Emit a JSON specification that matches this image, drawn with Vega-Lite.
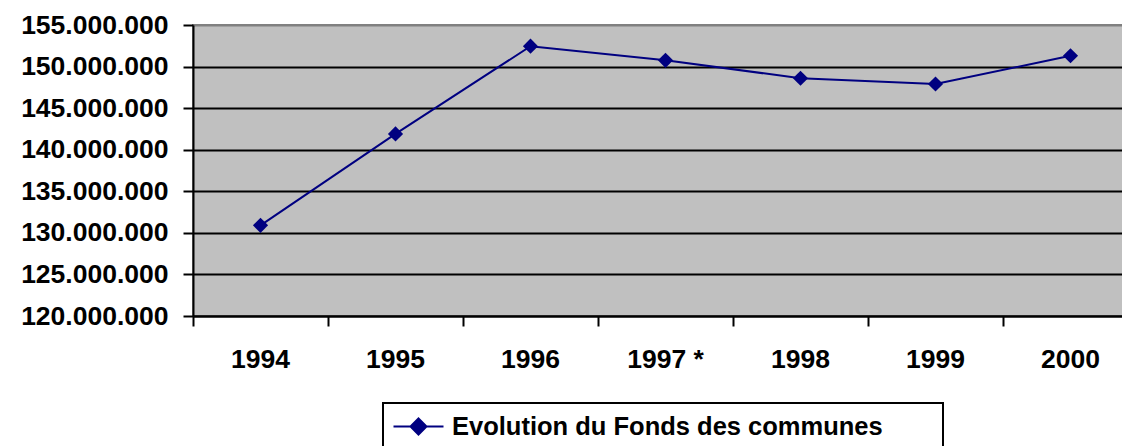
{
  "$schema": "https://vega.github.io/schema/vega-lite/v6.json",
  "width": 945,
  "height": 291,
  "autosize": {"type": "none"},
  "padding": {"left": 193, "top": 25, "right": 0, "bottom": 130},
  "background": "white",
  "config": {
    "locale": {"number": {"decimal": ",", "thousands": ".", "grouping": [3], "currency": ["", " €"]}},
    "view": {"fill": "#C0C0C0", "stroke": "#808080", "strokeWidth": 2},
    "font": "Liberation Sans",
    "legend": {"strokeWidth": 2}
  },
  "data": {
    "values": [
      {"year": "1994", "value": 130900000, "series": "Evolution du Fonds des communes"},
      {"year": "1995", "value": 141900000, "series": "Evolution du Fonds des communes"},
      {"year": "1996", "value": 152450000, "series": "Evolution du Fonds des communes"},
      {"year": "1997 *", "value": 150750000, "series": "Evolution du Fonds des communes"},
      {"year": "1998", "value": 148600000, "series": "Evolution du Fonds des communes"},
      {"year": "1999", "value": 147900000, "series": "Evolution du Fonds des communes"},
      {"year": "2000", "value": 151300000, "series": "Evolution du Fonds des communes"}
    ]
  },
  "encoding": {
    "x": {
      "field": "year", "type": "nominal", "sort": null,
      "scale": {"type": "band", "paddingInner": 0, "paddingOuter": 0},
      "axis": {
        "title": null, "labelAngle": 0, "bandPosition": 0,
        "labelFont": "Liberation Sans", "labelFontSize": 26.5, "labelFontWeight": "bold", "labelColor": "black",
        "labelPadding": 20, "tickSize": 10, "tickColor": "black", "tickWidth": 2,
        "domainColor": "black", "domainWidth": 2, "grid": false, "labelFlush": false
      }
    },
    "y": {
      "field": "value", "type": "quantitative",
      "scale": {"domain": [120000000, 155000000], "nice": false, "zero": false},
      "axis": {
        "title": null,
        "values": [120000000, 125000000, 130000000, 135000000, 140000000, 145000000, 150000000, 155000000],
        "format": ",.0f",
        "labelFont": "Liberation Sans", "labelFontSize": 26.5, "labelFontWeight": "bold", "labelColor": "black",
        "labelPadding": 15, "tickSize": 10, "tickColor": "black", "tickWidth": 2,
        "domainColor": "black", "domainWidth": 2,
        "grid": true, "gridWidth": 2,
        "gridColor": {"condition": {"test": "datum.value >= 155000000", "value": "#808080"}, "value": "black"},
        "labelFlush": false
      }
    },
    "color": {
      "field": "series", "type": "nominal",
      "scale": {"range": ["#000080"]},
      "legend": {
        "title": null, "orient": "none", "legendX": 190, "legendY": 378,
        "strokeColor": "black", "padding": 10,
        "labelFont": "Liberation Sans", "labelFontSize": 25.5, "labelFontWeight": "bold", "labelColor": "black",
        "labelExpr": "datum.label + '\u00a0\u00a0\u00a0\u00a0\u00a0\u00a0\u00a0\u200b'",
        "symbolType": "M-2,0L2,0M0,-0.64L0.64,0L0,0.64L-0.64,0Z",
        "symbolSize": 625, "symbolStrokeWidth": 2, "symbolFillColor": "#000080", "symbolStrokeColor": "#000080",
        "symbolOffset": 12, "labelOffset": 20, "labelLimit": 0, "columnPadding": 0
      }
    }
  },
  "layer": [
    {"mark": {"type": "line", "strokeWidth": 2}},
    {"mark": {"type": "point", "shape": "diamond", "filled": true, "size": 230, "opacity": 1}}
  ]
}
